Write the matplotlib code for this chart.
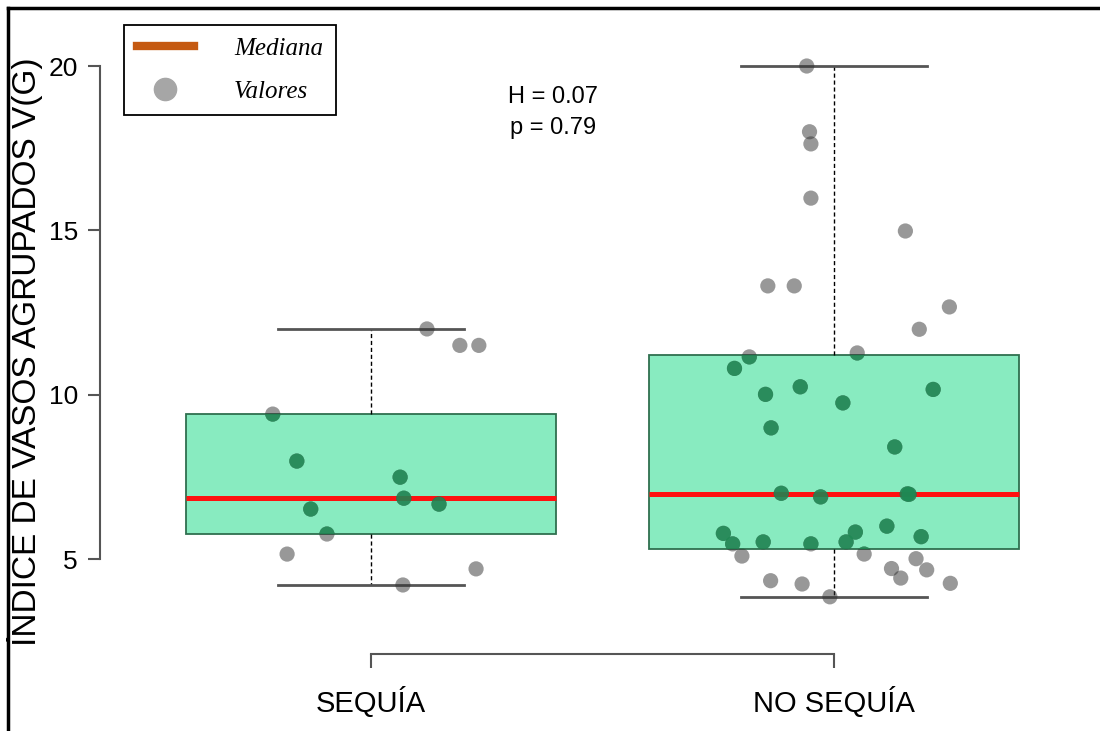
import numpy as np
import matplotlib
matplotlib.use("Agg")
import matplotlib.pyplot as plt
from matplotlib.lines import Line2D

plt.rcParams['font.family'] = ['Liberation Sans', 'DejaVu Sans']

groups = ["SEQUÍA", "NO SEQUÍA"]
positions = [1, 2]

# valores (con su desplazamiento horizontal de jitter)
sequia_vals = [12.0, 11.5, 11.5, 9.41, 7.98, 7.49, 6.85, 6.67, 6.52, 5.76, 5.15, 4.70, 4.21]
sequia_jit = [0.121, 0.192, 0.233, -0.212, -0.160, 0.063, 0.071, 0.147, -0.130, -0.095, -0.181, 0.227, 0.069]

nosequia_vals = [20.0, 18.0, 17.63, 15.98, 14.98, 13.31, 13.31, 12.67, 11.99, 11.15,
                 11.27, 10.80, 10.24, 10.01, 10.16, 9.75, 8.99, 8.41, 7.00, 6.89,
                 6.98, 6.97, 6.00, 5.82, 5.78, 5.68, 5.46, 5.52, 5.46, 5.52,
                 5.09, 5.15, 5.01, 4.71, 4.67, 4.42, 4.34, 4.24, 4.26, 3.85]
nosequia_jit = [-0.059, -0.053, -0.050, -0.050, 0.154, -0.143, -0.086, 0.249, 0.184, -0.183,
                0.050, -0.215, -0.073, -0.148, 0.214, 0.019, -0.136, 0.131, -0.114, -0.029,
                0.158, 0.162, 0.114, 0.046, -0.239, 0.188, -0.219, -0.153, -0.050, 0.026,
                -0.199, 0.065, 0.177, 0.124, 0.200, 0.144, -0.137, -0.069, 0.251, -0.009]

stat_lines = ["H = 0.07", "p = 0.79"]
legend_labels = ["Mediana", "Valores"]


def fivenum(v):
    v = np.sort(np.asarray(v))
    n = len(v)
    n4 = np.floor((n + 3) / 2) / 2
    d = np.array([1, n4, (n + 1) / 2, n + 1 - n4, n]) - 1
    return 0.5 * (v[np.floor(d).astype(int)] + v[np.ceil(d).astype(int)])


def box_stats(v, label):
    v = np.asarray(v)
    mn, q1, med, q3, mx = fivenum(v)
    iqr = q3 - q1
    lo = v[v >= q1 - 1.5 * iqr].min()
    hi = v[v <= q3 + 1.5 * iqr].max()
    return dict(med=med, q1=q1, q3=q3, whislo=lo, whishi=hi, fliers=[], label=label)


W, H = 1100, 731
fig = plt.figure(figsize=(W / 100, H / 100), dpi=100)
ax = fig.add_axes([100 / W, (H - 654) / H, 1005 / W, 634 / H])

stats = [box_stats(sequia_vals, groups[0]), box_stats(nosequia_vals, groups[1])]
bp = ax.bxp(stats, positions=positions, widths=0.8, capwidths=0.4, patch_artist=True,
            showfliers=False,
            boxprops=dict(facecolor='#88EBC0', edgecolor='#2F6F4F', linewidth=1.3),
            whiskerprops=dict(color='black', linewidth=1, linestyle=(0, (3, 2))),
            capprops=dict(color='#555555', linewidth=2),
            medianprops=dict(color='#FF1010', linewidth=3.6, zorder=3))

data = [(1, sequia_vals, sequia_jit), (2, nosequia_vals, nosequia_jit)]
for (pos, vals, jit), box in zip(data, bp['boxes']):
    xs = pos + np.array(jit)
    ax.scatter(xs, vals, s=120, color='#333333', alpha=0.5, edgecolors='none', zorder=5)
    # dentro de la caja los puntos se ven verde oscuro
    inside = ax.scatter(xs, vals, s=120, color='#1E8C55', alpha=0.8, edgecolors='none', zorder=6)
    inside.set_clip_path(box)

ax.set_xlim(0.415, 2.585)
ax.set_ylim(2.11, 21.4)

for s in ['top', 'right']:
    ax.spines[s].set_visible(False)
ax.spines['left'].set_bounds(5, 20)
ax.spines['bottom'].set_bounds(1, 2)
for s in ['left', 'bottom']:
    ax.spines[s].set_color('#555555')
    ax.spines[s].set_linewidth(1.5)

ax.set_yticks([5, 10, 15, 20])
ax.set_xticks(positions)
ax.set_xticklabels(groups, fontsize=21)
ax.tick_params(axis='y', length=9, width=1.5, color='#555555', labelsize=19, pad=7)
ax.tick_params(axis='x', length=10, width=1.5, color='#555555', pad=14)

ax.set_ylabel("ÍNDICE DE VASOS AGRUPADOS V(G)", fontsize=24)
ax.yaxis.set_label_coords((43 - 100) / 1005, (654 - 352) / 634)

ax.text(1.393, 19.06, stat_lines[0], ha='center', va='center', fontsize=17)
ax.text(1.393, 18.12, stat_lines[1], ha='center', va='center', fontsize=17)

handles = [Line2D([], [], color='#C55A11', linewidth=6),
           Line2D([], [], marker='o', linestyle='', color='#A6A6A6', markersize=16)]
leg = ax.legend(handles, legend_labels, loc='upper left',
                bbox_to_anchor=(124 / W, 1 - 25 / H), bbox_transform=fig.transFigure,
                prop=dict(family='Liberation Serif', style='italic', size=18),
                frameon=True, fancybox=False, edgecolor='black', framealpha=1,
                handlelength=2.3, handletextpad=1.6, borderpad=0.5, labelspacing=0.8,
                borderaxespad=0)
leg.get_frame().set_linewidth(1.3)
leg.set_zorder(10)

# marco exterior (solo lados izquierdo y superior visibles)
fig.add_artist(Line2D([8 / W, 8 / W], [0, 1 - 8 / H], color='black', linewidth=2.5,
                      transform=fig.transFigure))
fig.add_artist(Line2D([8 / W, 1], [1 - 8 / H, 1 - 8 / H], color='black', linewidth=2.5,
                      transform=fig.transFigure))

fig.savefig("out.png", dpi=100)
